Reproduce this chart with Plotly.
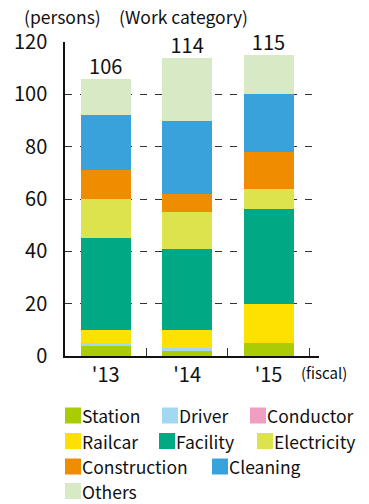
import plotly.graph_objects as go

# ---------------- data ----------------
years = ["'13", "'14", "'15"]
categories = ["Station", "Driver", "Conductor", "Railcar", "Facility",
              "Electricity", "Construction", "Cleaning", "Others"]
station      = [4, 2, 5]
driver       = [1, 1, 0]
conductor    = [0, 0, 0]
railcar      = [5, 7, 15]
facility     = [35, 31, 36]
electricity  = [15, 14, 8]
construction = [11, 7, 14]
cleaning     = [21, 28, 22]
others       = [14, 24, 15]
series = [station, driver, conductor, railcar, facility,
          electricity, construction, cleaning, others]
colors = ["#AACC03", "#A3D8F3", "#F09EC2", "#FFE100", "#00A984",
          "#DCE34C", "#F08C00", "#3AA2DB", "#D8EAC5"]
y_ticks = [0, 20, 40, 60, 80, 100, 120]

FONT = "Noto Sans CJK JP"
TXT = "#111"
W, H = 369, 504
L, R, T, B = 65, 50, 42, 148
PW, PH = W - L - R, H - T - B


def px(x):
    return (x - L) / PW


def py(y):
    return (H - B - y) / PH


fig = go.Figure()
for name, vals, col in zip(categories, series, colors):
    fig.add_trace(go.Bar(x=years, y=vals, name=name, marker_color=col,
                         marker_line_width=0, width=0.614, showlegend=False))

totals = [sum(v) for v in zip(*series)]
fig.add_trace(go.Scatter(x=years, y=totals, mode="text", text=[str(t) for t in totals],
                         textposition="top center", cliponaxis=False,
                         textfont=dict(family=FONT, size=20, color=TXT),
                         showlegend=False, hoverinfo="skip"))

# ---------- legend (drawn as key swatches + labels) ----------
rows = [[0, 1, 2], [3, 4, 5], [6, 7], [8]]
row_x = [[65, 162, 250], [65, 159, 257], [65, 212], [65]]
row_y = [415.5, 441, 466.5, 491]
shapes = []
annotations = []
for r, idxs in enumerate(rows):
    for k, i in enumerate(idxs):
        x0 = row_x[r][k]
        yc = row_y[r]
        shapes.append(dict(type="rect", xref="paper", yref="paper",
                           x0=px(x0), x1=px(x0 + 16), y0=py(yc + 8), y1=py(yc - 8),
                           fillcolor=colors[i], line_width=0, layer="above"))
        annotations.append(dict(xref="paper", yref="paper", x=px(x0 + 16), y=py(yc),
                                xanchor="left", yanchor="middle", showarrow=False,
                                text=categories[i], borderpad=0,
                                font=dict(family=FONT, size=17.5, color=TXT)))

annotations += [
    dict(xref="paper", yref="paper", x=px(22), y=py(17), xanchor="left", yanchor="middle",
         showarrow=False, text="(persons)", font=dict(family=FONT, size=17.5, color=TXT)),
    dict(xref="paper", yref="paper", x=px(117), y=py(17), xanchor="left", yanchor="middle",
         showarrow=False, text="(Work category)", font=dict(family=FONT, size=17.5, color=TXT)),
    dict(xref="paper", yref="paper", x=px(299), y=py(372), xanchor="left", yanchor="middle",
         showarrow=False, text="(fiscal)", font=dict(family=FONT, size=15, color=TXT)),
]

fig.update_layout(
    width=W, height=H, margin=dict(l=L, r=R, t=T, b=B),
    barmode="stack", bargap=0.385,
    plot_bgcolor="white", paper_bgcolor="white",
    font=dict(family=FONT, color=TXT),
    shapes=shapes, annotations=annotations,
    xaxis=dict(type="category", range=[-0.5, 2.62], showline=True, linecolor="#111",
               linewidth=1.5, ticks="inside", tickson="boundaries", ticklen=8,
               tickcolor="#333", tickwidth=1.2, showgrid=False,
               tickfont=dict(family=FONT, size=20, color=TXT), ticklabelstandoff=0),
    yaxis=dict(range=[0, 120], tickvals=y_ticks, showline=True, linecolor="#111",
               linewidth=1.5, ticks="", showgrid=True, gridcolor="#333", gridwidth=1.2,
               griddash="7px,8px", zeroline=False,
               tickfont=dict(family=FONT, size=20, color=TXT), ticklabelstandoff=12),
)

fig.write_html("out.html")
